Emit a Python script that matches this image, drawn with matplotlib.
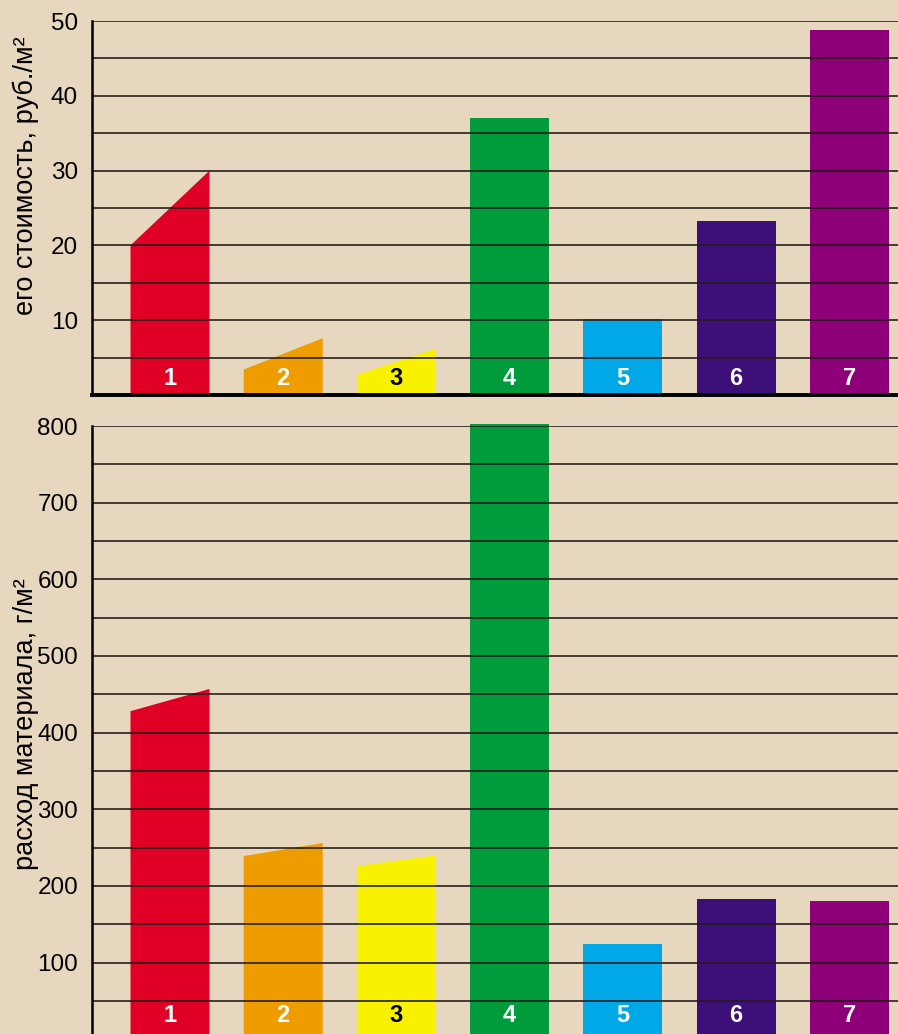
import matplotlib
matplotlib.use("Agg")
import matplotlib.pyplot as plt

# ---- data ----
categories = ["1", "2", "3", "4", "5", "6", "7"]
cost_left = [20.0, 3.4, 2.7, 37.0, 10.1, 23.2, 48.8]
cost_right = [30.0, 7.6, 6.2, 37.0, 10.1, 23.2, 48.8]
usage_left = [428, 239, 226, 803, 124, 183, 180]
usage_right = [457, 256, 240, 803, 124, 183, 180]
colors = ["#E00025", "#EE9C00", "#F8F200", "#009C3B", "#00A8E8", "#3D0F78", "#8E0078"]
label_colors = ["white", "white", "black", "white", "white", "white", "white"]
cost_ticks = [10, 20, 30, 40, 50]
usage_ticks = [100, 200, 300, 400, 500, 600, 700, 800]
cost_label = "его стоимость, руб./м²"
usage_label = "расход материала, г/м²"

BG = "#E8D7BF"
W, H = 898, 1034
fig = plt.figure(figsize=(W / 100, H / 100), dpi=100, facecolor=BG)
plt.rcParams["font.family"] = ["Liberation Sans", "DejaVu Sans"]

bw = 0.698
xlim = (-0.689, 6.431)


def panel(ax, left, right, ymin, ymax, grid_step, ticks, label_offset):
    ax.set_facecolor(BG)
    ax.set_xlim(*xlim)
    ax.set_ylim(ymin, ymax)
    for i, (l, r) in enumerate(zip(left, right)):
        x0, x1 = i - bw / 2, i + bw / 2
        ax.fill([x0, x0, x1, x1], [0, l, r, 0], color=colors[i], lw=0,
                zorder=2, clip_on=False)
        ax.annotate(categories[i], xy=(i, 0), xytext=(0, label_offset),
                    textcoords="offset pixels", ha="center", va="center",
                    fontsize=17, fontweight="bold", color=label_colors[i],
                    zorder=4)
    y = grid_step
    while y <= ymax + 1e-9:
        ax.axhline(y, color="#221c18", lw=1.3, zorder=3, alpha=0.9)
        y += grid_step
    ax.set_yticks(ticks)
    ax.set_yticklabels([str(t) for t in ticks])
    ax.tick_params(axis="y", length=0, pad=10, labelsize=17.5)
    ax.set_xticks([])
    for s in ["top", "right"]:
        ax.spines[s].set_visible(False)
    ax.spines["left"].set_linewidth(1.8)
    ax.spines["left"].set_zorder(5)


# top panel
ax1 = fig.add_axes([92 / W, 1 - 395 / H, 1 - 92 / W, (395 - 21) / H])
panel(ax1, cost_left, cost_right, 0, 50, 5, cost_ticks, 16)
ax1.spines["bottom"].set_linewidth(2.8)
ax1.spines["bottom"].set_zorder(5)

# bottom panel (zero line lies just below the figure edge)
bot0 = 1039.3
ax2 = fig.add_axes([92 / W, 1 - bot0 / H, 1 - 92 / W, (bot0 - 426) / H])
panel(ax2, usage_left, usage_right, 0, 800, 50, usage_ticks, 24)
ax2.spines["bottom"].set_visible(False)

fig.text(26 / W, 1 - 176 / H, cost_label, rotation=90, ha="center", va="center",
         fontsize=19.5)
fig.text(26 / W, 1 - 724 / H, usage_label, rotation=90, ha="center", va="center",
         fontsize=19.5)

fig.savefig("out.png", dpi=100, facecolor=BG)
